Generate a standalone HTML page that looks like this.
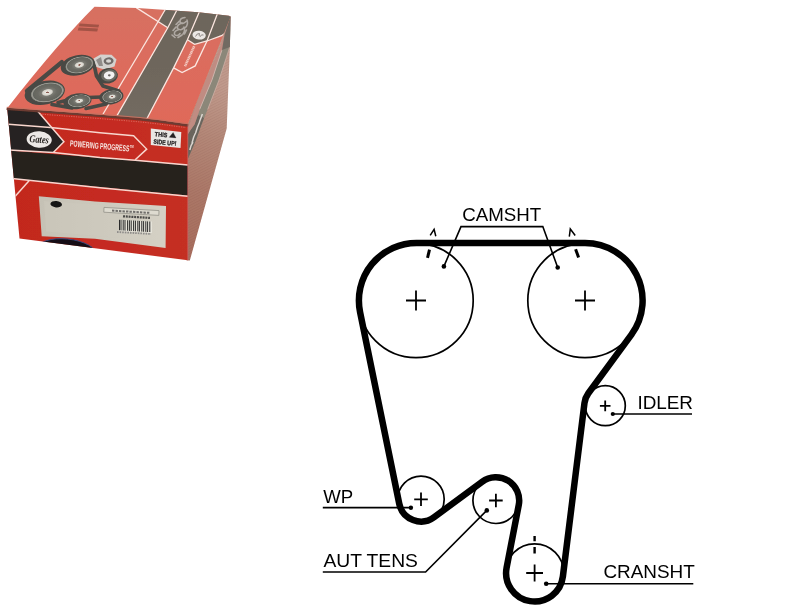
<!DOCTYPE html>
<html><head><meta charset="utf-8">
<style>
html,body{margin:0;padding:0;background:#fff;}
body{width:810px;height:610px;overflow:hidden;position:relative;font-family:"Liberation Sans",sans-serif;}
svg{position:absolute;left:0;top:0;}
text{font-family:"Liberation Sans",sans-serif;}
</style></head><body>
<svg id="main" width="810" height="610" viewBox="0 0 810 610">
<!--BOXSTART--><defs>
 <linearGradient id="gTop" x1="0" y1="0" x2="0" y2="1">
  <stop offset="0" stop-color="#d67062"/><stop offset="0.5" stop-color="#dc6c5d"/><stop offset="1" stop-color="#e06959"/>
 </linearGradient>
 <linearGradient id="gLabel" x1="0" y1="0" x2="1" y2="0"><stop offset="0" stop-color="#c5c1b5"/><stop offset="1" stop-color="#d5d1c5"/></linearGradient>
 <linearGradient id="gGrey" x1="0" y1="0" x2="0" y2="1"><stop offset="0" stop-color="#6d665b"/><stop offset="0.5" stop-color="#6e665c"/><stop offset="1" stop-color="#736b61"/></linearGradient>
 <linearGradient id="gFront" x1="0" y1="0" x2="1" y2="0">
  <stop offset="0" stop-color="#c2281e"/><stop offset="0.5" stop-color="#c52a20"/><stop offset="1" stop-color="#c43024"/>
 </linearGradient>
 <linearGradient id="gSide" gradientUnits="userSpaceOnUse" x1="186" y1="250" x2="232" y2="90">
  <stop offset="0" stop-color="#a86e5e"/><stop offset="0.35" stop-color="#ab7767"/><stop offset="0.7" stop-color="#b48878"/><stop offset="1" stop-color="#c09a8c"/>
 </linearGradient>
 <radialGradient id="gPul" cx="0.5" cy="0.5" r="0.5">
  <stop offset="0" stop-color="#8a5a50"/><stop offset="0.07" stop-color="#8a5a50"/><stop offset="0.1" stop-color="#e8e6de"/><stop offset="0.28" stop-color="#d6d4cc"/><stop offset="0.36" stop-color="#7c7c74"/>
  <stop offset="0.55" stop-color="#6c6c65"/><stop offset="0.84" stop-color="#64655e"/><stop offset="0.9" stop-color="#9c9c94"/><stop offset="0.96" stop-color="#84847c"/><stop offset="1" stop-color="#4e4f49"/>
 </radialGradient>
 <pattern id="hatch" width="2.4" height="2.4" patternUnits="userSpaceOnUse" patternTransform="rotate(-27)">
  <rect width="2.4" height="2.4" fill="none"/><rect width="2.4" height="0.9" fill="#5a2a20" opacity="0.08"/>
 </pattern>
 <filter id="soft" x="-5%" y="-5%" width="110%" height="110%"><feGaussianBlur stdDeviation="0.6"/></filter>
 <clipPath id="cTop"><path d="M94.5,6.8 Q60,41 7.2,108.2 L60,112.1 L100,115.1 L140,118.4 L160,120.7 L187.8,124.6 L230.4,17 L229,15.8 L198.5,12.2 L166.9,9.9 L137.3,7.9 Z"/></clipPath>
 <clipPath id="cFront"><path d="M7.2,108.2 L60,112.1 L100,115.1 L140,118.4 L160,120.7 L187.8,124.6 L187.8,260.3 L19.5,238.5 Z"/></clipPath>
 <clipPath id="cSide"><path d="M186.5,125 L187.5,124.2 L229.6,15.8 L230.6,16.6 L229.8,50 L228.6,80 L226.7,128.5 L189.8,260.5 L186.5,260.2 Z"/></clipPath>
</defs>
<g id="box" filter="url(#soft)">
 <!-- SIDE FACE -->
 <g clip-path="url(#cSide)">
  <rect x="185" y="10" width="50" height="255" fill="url(#gSide)"/>
  <rect x="185" y="10" width="50" height="255" fill="url(#hatch)"/>
  <!-- dark grey strip -->
  <path d="M188,134 L190.5,130 L194.5,124.6 L199.9,109 L212.2,79.5 L222,50 L232,24 L232,42 L229.8,47 L219.1,79.5 L207.8,109 L201.5,124.6 L195.6,141 L190,154 L188,158.5 Z" fill="#8b8779"/>
  <path d="M188,134 L190.5,130 L194.5,124.6 L198,115 L204,118 L201.5,124.6 L195.6,141 L190,154 L188,158.5 Z" fill="#6b655d"/>
  <!-- pink-grey highlight strip along edge -->
  <path d="M188.4,125.6 L189.5,124.6 L196,105 L205.8,79.5 L219.1,50 L231,15 L232,24 L222,50 L212.2,79.5 L199.9,109 L194.5,124.6 L190.5,130 L188,134 Z" fill="#c08c82"/>
  <path d="M224.5,35 L231,14 L232,44 L229.8,47 L222,50 Z" fill="#716a62"/>
  <path d="M221.8,50.3 L212,79.8 L199.7,109.3" stroke="#cdb8b0" stroke-width="0.9" fill="none"/>
  <path d="M229.6,47.5 L219,80 L207.7,109.5" stroke="#cbb0a6" stroke-width="0.8" fill="none"/>
  <path d="M189.8,150 q1,-5 3.2,-8 M192,143 q1.2,-6 4,-11 M195.6,133 q1.6,-6 4,-11 M199.4,122 l3,-8" stroke="#e4e0dc" stroke-width="1.5" fill="none" opacity="0.9"/>
 </g>
 <!-- TOP FACE -->
 <g clip-path="url(#cTop)">
  <rect x="0" y="0" width="240" height="130" fill="url(#gTop)"/>
  <!-- grey region right of line a/b -->
  <path d="M165.6,9 L240,9 L240,22 L228,31 L221.5,35.7 L207,41 L194.6,44.3 L187.4,39.7 L173.6,67.9 L146.2,120 L145,124 L115,119 L116.6,116 L167.8,27.7 L158.7,22.5 Z" fill="url(#gGrey)"/>
  <!-- white lines -->
  <g stroke="#fbe6e0" stroke-width="1.3" fill="none">
   <path d="M165.3,9.5 L102.8,114.5"/>
   <path d="M176.9,10 L167.8,27.7 L116.6,116.4"/>
   <path d="M136.2,7.6 L167.8,27.7"/>
   <path d="M199.5,11.5 L187.4,39.7 L173.6,67.9 L146.2,120"/>
   <path d="M217.5,13.5 L207,41 L195.2,65.9 L182.1,72.5 L173.6,67.9"/>
   <path d="M187.4,39.7 L194.6,44.3 L207,41 L221.5,35.7 L229,30.5"/>
  </g>
  <!-- logos on grey -->
  <ellipse cx="199.1" cy="35.1" rx="6.7" ry="4.4" fill="#ebe7e4" transform="rotate(6 199.1 35.1)"/>
  <path d="M195.5,36.5 q1.5,-3.5 4,-3 q-1,2 0.5,3 q2,-2.5 3.5,-1.5" stroke="#8a8480" stroke-width="1" fill="none"/>
  <g stroke="#b3ada8" stroke-width="1.6" fill="none" opacity="0.95" stroke-linecap="round">
   <path d="M185,17.5 q-5.5,0.5 -5,4.5 q2.5,3 6,-0.5 M182.5,23 q-6,1.5 -5,5.5 q3.5,3 6.5,-1 M179,29.5 q-5.5,1.5 -4.5,5 q3,2.5 5.5,-1 M187,20 q1.5,4.5 -1.5,7.5 M184,27 q1.5,4 -1,7 M179.5,21 l-3.5,3.5 M176,27 l-3,3.5 M182,35 l-4,2.5 M172,35 l3,2.5 M186.5,30 l-2,4"/>
  </g>
  <!-- PP text on top -->
  <path d="M194.2,46.2 L185,66.2" stroke="#f4cfc7" stroke-width="2.5" stroke-dasharray="1.3 0.45" fill="none" opacity="0.92"/>
  <!-- embossed mark -->
  <path d="M79.6,23.6 L99.2,24.8 L98.3,27.4 L78.9,26.2 Z M78.6,27.4 L98,28.6 L97.2,31.6 L77.8,30.4 Z" fill="#9c4f42" opacity="0.9"/>
  <!-- belt between pulleys -->
  <g fill="none" stroke="#484a44" stroke-width="3.6" stroke-linecap="round" stroke-linejoin="round">
   <path d="M61.8,62.2 L27,91" stroke-width="4.4"/>
   <path d="M58,102.5 L70,99.5 M88,97.5 L102,97"/>
   <path d="M93.5,62 L96.5,76 L103,86 L119,91"/>
   <path d="M52,104.5 L72,108"/>
   <path d="M86,108.5 L106,104"/>
  </g>
  <!-- tensioner body -->
  <path d="M93.5,58.5 L100.5,54.5 L111.5,54.8 L116.5,59.5 L114.5,66.5 L104,69.6 L96.5,67 Z" fill="#d4d1ce"/>
  <path d="M96,60 L101,57 L103,66 L99,66 Z" fill="#908c89"/>
  <ellipse cx="108.6" cy="61" rx="5" ry="3.6" fill="#6f6a67" transform="rotate(-10 108.6 61)"/><ellipse cx="108.6" cy="61" rx="2.6" ry="1.8" fill="#d9d6d3"/>
  <!-- pulleys -->
  <g>
   <ellipse cx="77.7" cy="65.3" rx="17.2" ry="10" fill="#484a44" transform="rotate(-12 77.7 65.3)"/>
   <ellipse cx="79.4" cy="64.9" rx="14.4" ry="8.4" fill="url(#gPul)" transform="rotate(-12 79.4 64.9)"/>
   <ellipse cx="108" cy="75.8" rx="10" ry="7.7" fill="#484a44" transform="rotate(-10 108 75.8)"/>
   <ellipse cx="109" cy="75.3" rx="8" ry="6" fill="#6c6c65" transform="rotate(-10 109 75.3)"/>
   <ellipse cx="109.2" cy="75.2" rx="5.4" ry="4" fill="#f2f2f2" transform="rotate(-10 109.2 75.2)"/>
   <ellipse cx="109.3" cy="75.3" rx="1.4" ry="1.1" fill="#6a6664"/>
   <ellipse cx="44.8" cy="92.8" rx="20.4" ry="11.7" fill="#484a44" transform="rotate(-12 44.8 92.8)"/>
   <ellipse cx="47.4" cy="92.4" rx="17" ry="9.8" fill="url(#gPul)" transform="rotate(-12 47.4 92.4)"/>
   <ellipse cx="77.4" cy="101.2" rx="14.2" ry="7.8" fill="#484a44" transform="rotate(-8 77.4 101.2)"/>
   <ellipse cx="79.2" cy="100.8" rx="11.8" ry="6.4" fill="url(#gPul)" transform="rotate(-8 79.2 100.8)"/>
   <ellipse cx="111.3" cy="96.8" rx="12.2" ry="7.5" fill="#484a44" transform="rotate(-8 111.3 96.8)"/>
   <ellipse cx="112.2" cy="96.6" rx="10.2" ry="6.2" fill="url(#gPul)" transform="rotate(-8 112.2 96.6)"/>
  </g>
 </g>
 <!-- FRONT FACE -->
 <g clip-path="url(#cFront)">
  <rect x="0" y="100" width="195" height="165" fill="url(#gFront)"/>
  <!-- black band -->
  <path d="M9,150.6 L133,160.4 L187.8,165.3 L187.8,195.6 L13,178.4 Z" fill="#26221e"/>
  <!-- black panel with logo -->
  <path d="M6,107.5 L36.9,110.3 L63.9,141.7 L53.3,152.6 L9,150.2 Z" fill="#262220"/>
  <!-- white lines -->
  <g stroke="#f8d6ce" stroke-width="1.5" fill="none">
   <path d="M8.5,124.3 L50.6,127.6"/>
   <path d="M50.6,127.6 L100,132.7 L133.6,135.7 L146.7,149.1 L135.2,159.8"/>
   <path d="M9,150 L53.3,152.5 L100,157.4 L135.2,160.2 L187.8,165"/>
   <path d="M36.9,110.3 L63.9,141.7 L53.3,152.5"/>
   <path d="M12,178.4 L100,187.8 L187.8,196.2"/>
   <path d="M15,196.5 L29.5,180.2"/>
  </g>
  <!-- Gates logo -->
  <ellipse cx="39.2" cy="139.5" rx="12.6" ry="8.2" fill="#ece8e6" transform="rotate(5 39.2 139.5)"/>
  <text x="29.4" y="142.8" font-size="10.5" font-style="italic" font-weight="bold" fill="#262220" style="font-family:'Liberation Serif',serif" transform="rotate(4 39 139)" textLength="19.5" lengthAdjust="spacingAndGlyphs">Gates</text>
  <!-- POWERING PROGRESS -->
  <text x="69.8" y="146.3" font-size="8.7" font-weight="bold" fill="#f6e6e2" transform="rotate(5 69.8 146.3)" textLength="59.5" lengthAdjust="spacingAndGlyphs">POWERING PROGRESS</text>
  <text x="130" y="147.6" font-size="2.6" font-weight="bold" fill="#f6e6e2">TM</text>
  <!-- this side up label -->
  <path d="M150.8,128.6 L181.3,131.9 L180.5,148 L150.8,145 Z" fill="#e9e7e4"/>
  <g fill="#242122" stroke="#242122" stroke-width="0.25" font-weight="bold" font-size="6.3" transform="rotate(5.5 152 136)">
   <text x="154.6" y="135.9" textLength="12.6" lengthAdjust="spacingAndGlyphs">THIS</text>
   <path d="M169.3,135.6 L172.7,130.4 L176.1,135.6 Z"/>
   <text x="154" y="143.4" textLength="23" lengthAdjust="spacingAndGlyphs">SIDE UP!</text>
  </g>
  <!-- product label -->
  <path d="M38.8,196.3 L95,201.4 L166,206 L165.6,248 L95,238.8 L41.7,236.3 Z" fill="url(#gLabel)"/>
  <path d="M44,201 L120,206 L119,238 L46,231.5 Z" fill="#cdc9bd" opacity="0.5"/>
  <ellipse cx="56.2" cy="204.2" rx="5.8" ry="3.2" fill="#161415" transform="rotate(5 56.2 204.2)"/>
  <path d="M104,207.4 L159,210.6 L158.8,215.4 L103.8,212.2 Z" fill="#dedbd0" stroke="#8a8880" stroke-width="0.7"/>
  <path d="M112,210.6 L150,212.9" stroke="#6f6d6b" stroke-width="2" stroke-dasharray="2.4 1.1" fill="none"/>
  <path d="M123,216.3 L150,217.9" stroke="#4a4846" stroke-width="2.2" stroke-dasharray="2 0.8" fill="none"/>
  <g transform="matrix(1 0.06 0 1 0 -7.1)">
   <rect x="119" y="219.6" width="33" height="11.4" fill="#e6e4da"/>
   <path d="M119.5,219.6v10.6M121,219.6v10.6M123.2,219.6v10.6M125,219.6v10.6M127.6,219.6v10.6M129.4,219.6v10.6M131.2,219.6v10.6M133.6,219.6v10.6M135.4,219.6v10.6M137.8,219.6v10.6M139.4,219.6v10.6M141.8,219.6v10.6M143.6,219.6v10.6M145.8,219.6v10.6M147.6,219.6v10.6M149.8,219.6v10.6" stroke="#2b2a2a" stroke-width="1"/>
  </g>
  <path d="M117,232 L151,234" stroke="#8f8d8b" stroke-width="1.8" stroke-dasharray="1.6 1" fill="none"/>
  <!-- black shape at bottom -->
  <ellipse cx="66.5" cy="252" rx="30" ry="13" fill="#121113" transform="rotate(6 66.5 252)"/>
  <ellipse cx="66.5" cy="252" rx="30" ry="13" fill="none" stroke="#3a4a86" stroke-width="0.9" transform="rotate(6 66.5 252)"/>
 </g>
 <!-- corrugated lid edge -->
 <path d="M6.6,108.9 L60,112.9 L100,115.9 L140,119.2 L160,121.5 L188.2,125.5" stroke="#6d3a30" stroke-width="2.4" fill="none"/>
 <path d="M6.8,107.3 L60,111.2 L100,114.2 L140,117.5 L160,119.8 L188.2,123.8" stroke="#c9705f" stroke-width="1" fill="none"/>
 <path d="M40,114.1 L60,115.6 L100,118.6 L140,121.9 L160,124.2 L186,127.6" stroke="#e88a80" stroke-width="0.8" stroke-dasharray="1.2 1.2" fill="none" opacity="0.8"/>
 <!-- front right vertical edge highlight -->
 <path d="M187.8,124.6 L187.8,260.3" stroke="#d06a6c" stroke-width="0.8" fill="none" opacity="0.7"/>
</g>
<!--BOXEND-->
<!--DIAGRAM-->
<g id="diagram" fill="none" stroke="#000" stroke-linecap="butt">
 <!-- pulleys -->
 <g stroke-width="1.7">
  <circle cx="416" cy="300.5" r="57.2"/>
  <circle cx="585" cy="300.5" r="57.2"/>
  <circle cx="605.3" cy="405.7" r="20"/>
  <circle cx="534.6" cy="573" r="29.2"/>
  <circle cx="495.9" cy="500.5" r="23"/>
  <circle cx="421" cy="499.3" r="23.2"/>
 </g>
 <!-- belt -->
 <path stroke-width="6.5" stroke-linejoin="round" d="M416.50,242.90 L585.00,242.90 A57.60,57.60 0 0 1 631.44,334.57 L588.37,393.28 A21.00,21.00 0 0 0 584.46,403.11 L562.88,576.52 A28.50,28.50 0 1 1 506.62,567.57 L518.77,504.94 A23.30,23.30 0 0 0 482.05,481.77 L434.20,517.15 A22.20,22.20 0 0 1 399.25,503.75 L360.07,312.03 A57.60,57.60 0 0 1 416.50,242.90 Z"/>
 <!-- crosses -->
 <g stroke-width="1.8">
  <path d="M406,300.5h20M416,290.5v20"/>
  <path d="M575,300.5h20M585,290.5v20"/>
  <path d="M599.9,405.9h10.6M605.2,400.6v10.6"/>
  <path d="M526.2,573h16.8M534.6,564.6v16.8"/>
  <path d="M489.1,500.5h13.6M495.9,493.7v13.6"/>
  <path d="M414.2,499.3h13.6M421,492.5v13.6"/>
 </g>
 <!-- timing marks -->
 <g stroke-width="1.5">
  <path d="M430.2,235.4L434.1,229.3L435.8,236.2"/>
  <path d="M569.3,236.7L570.3,229.0L575.2,235.5"/>
 </g>
 <g stroke-width="3">
  <path d="M427.5,257.9L429.5,249.7"/>
  <path d="M575.6,249.3L578.6,257.4"/>
 </g>
 <path stroke-width="2.4" d="M534.6,535.9V541.2M534.6,547.1V553.6"/>
 <!-- leaders -->
 <g stroke-width="1.6">
  <path d="M443.9,266.4L461,226.6H542.8L557.7,267.5"/>
  <path d="M612.8,414H692"/>
  <path d="M546.2,583.7H693.3"/>
  <path d="M322.8,507.6H410.9"/>
  <path d="M322.8,572H425.6L486.8,510.4"/>
 </g>
 <g fill="#000" stroke="none">
  <circle cx="443.9" cy="266.4" r="2.3"/>
  <circle cx="557.7" cy="267.5" r="2.3"/>
  <circle cx="612.8" cy="414" r="2.1"/>
  <circle cx="546.2" cy="583.7" r="2.3"/>
  <circle cx="410.9" cy="507.8" r="2.2"/>
  <circle cx="486.8" cy="510.4" r="2.3"/>
 </g>
</g>
<g id="labels" fill="#000" font-size="18.3" opacity="0.999" style="will-change:transform">
 <text x="462.2" y="220.6" textLength="79" lengthAdjust="spacingAndGlyphs">CAMSHT</text>
 <text x="637.4" y="408.6" textLength="55.6" lengthAdjust="spacingAndGlyphs">IDLER</text>
 <text x="603.4" y="578.3" textLength="91.4" lengthAdjust="spacingAndGlyphs">CRANSHT</text>
 <text x="323.2" y="502.9" textLength="30" lengthAdjust="spacingAndGlyphs">WP</text>
 <text x="323.4" y="566.6" textLength="94.6" lengthAdjust="spacingAndGlyphs">AUT TENS</text>
</g>
</svg>
</body></html>
